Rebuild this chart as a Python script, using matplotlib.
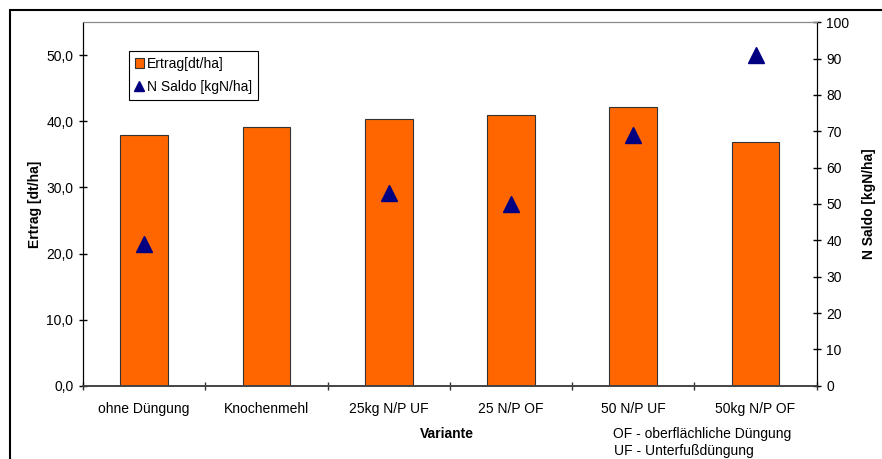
import matplotlib
matplotlib.use("Agg")
import matplotlib.pyplot as plt
from matplotlib.patches import Rectangle
from matplotlib.ticker import FuncFormatter

plt.rcParams['font.family'] = ['Liberation Sans', 'DejaVu Sans']

# data
varianten = ['ohne Düngung', 'Knochenmehl', '25kg N/P UF', '25 N/P OF', '50 N/P UF', '50kg N/P OF']
ertrag = [37.9, 39.1, 40.4, 40.9, 42.2, 36.9]
n_saldo = [39, None, 53, 50, 69, 91]

W, H = 882, 459
fs = 10
fig = plt.figure(figsize=(W / 100, H / 100), dpi=100)
ax = fig.add_axes([83 / W, 1 - 385.7 / H, (816.7 - 83) / W, (385.7 - 22.3) / H])
ax2 = ax.twinx()

x = list(range(len(varianten)))
ax.bar(x, ertrag, width=0.39, color='#ff6600', edgecolor='#333333', linewidth=0.8,
       label='Ertrag[dt/ha]', zorder=2)
ax.set_xlim(-0.5, len(varianten) - 0.5)
ax.set_ylim(0, 55)
ax.set_yticks([0, 10, 20, 30, 40, 50])
ax.yaxis.set_major_formatter(FuncFormatter(lambda v, p: f'{v:.1f}'.replace('.', ',')))
ax.set_xticks(x)
ax.set_xticklabels(varianten)
ax.tick_params(axis='x', which='major', length=0, pad=12, labelsize=fs)
ax.set_xticks([i + 0.5 for i in range(-1, len(varianten))], minor=True)
ax.tick_params(axis='x', which='minor', direction='inout', length=6, width=1, color='#333333')
ax.tick_params(axis='y', direction='inout', length=6, width=1, labelsize=fs, pad=4)

sx = [i for i, v in enumerate(n_saldo) if v is not None]
sy = [v for v in n_saldo if v is not None]
ax2.plot(sx, sy, linestyle='none', marker='^', markersize=11, color='#000080',
         label='N Saldo [kgN/ha]', zorder=3)
ax2.set_ylim(0, 100)
ax2.set_yticks(range(0, 101, 10))
ax2.tick_params(axis='y', direction='inout', length=6, width=1, labelsize=fs, pad=4)

for a in (ax, ax2):
    a.spines['top'].set_color('#888888')
    a.spines['top'].set_linewidth(0.8)
    a.spines['bottom'].set_color('#444444')
    a.spines['bottom'].set_linewidth(1.2)
    a.spines['left'].set_color('black')
    a.spines['right'].set_color('black')

ax.set_ylabel('Ertrag [dt/ha]', fontsize=fs, fontweight='bold', labelpad=3)
ax2.set_ylabel('N Saldo [kgN/ha]', fontsize=fs, fontweight='bold', labelpad=9)

h1, l1 = ax.get_legend_handles_labels()
h2, l2 = ax2.get_legend_handles_labels()
leg = ax2.legend(h1 + h2, l1 + l2, loc='upper left',
                 bbox_to_anchor=((129 - 83) / (816.7 - 83), (385.7 - 51) / (385.7 - 22.3)),
                 fontsize=fs, frameon=True, fancybox=False, edgecolor='black', framealpha=1,
                 handlelength=0.7, handletextpad=0.2, borderpad=0.4, labelspacing=0.7,
                 borderaxespad=0, markerscale=0.65)
leg.get_frame().set_linewidth(0.8)

fig.text(447 / W, 1 - 434 / H, 'Variante', fontsize=fs, fontweight='bold', ha='center', va='center')
fig.text(613 / W, 1 - 434 / H, 'OF - oberflächliche Düngung', fontsize=fs, ha='left', va='center')
fig.text(614 / W, 1 - 451 / H, 'UF - Unterfußdüngung', fontsize=fs, ha='left', va='center')

fig.patches.append(Rectangle((10 / W, -0.1), 1.2, 1 - 10 / H + 0.1, transform=fig.transFigure,
                             fill=False, edgecolor='black', linewidth=1.5))

fig.savefig('out.png', dpi=100)
